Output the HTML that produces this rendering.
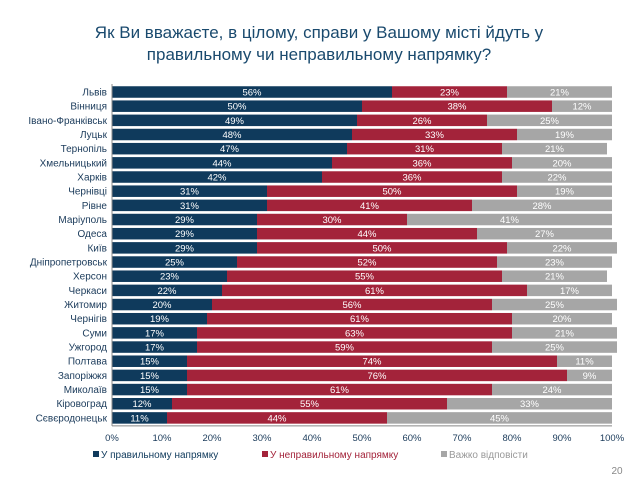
<!DOCTYPE html>
<html><head><meta charset="utf-8"><style>
body{margin:0;background:#fff;font-family:"Liberation Sans","DejaVu Sans",sans-serif;}
#wrap{position:relative;width:638px;height:479px;overflow:hidden;}
#title{position:absolute;left:0;top:22px;width:638px;text-align:center;color:#1a4a6e;font-size:17px;line-height:22px;}
</style></head><body>
<div id="wrap">
<div id="title">Як Ви вважаєте, в цілому, справи у Вашому місті йдуть у<br>правильному чи неправильному напрямку?</div>
<svg id="chart" width="638" height="479" style="position:absolute;left:0;top:0"></svg>
</div>
<script>
const cities=["Львів","Вінниця","Івано-Франківськ","Луцьк","Тернопіль","Хмельницький","Харків","Чернівці","Рівне","Маріуполь","Одеса","Київ","Дніпропетровськ","Херсон","Черкаси","Житомир","Чернігів","Суми","Ужгород","Полтава","Запоріжжя","Миколаїв","Кіровоград","Сєвєродонецьк"];
const right=[56,50,49,48,47,44,42,31,31,29,29,29,25,23,22,20,19,17,17,15,15,15,12,11];
const wrong=[23,38,26,33,31,36,36,50,41,30,44,50,52,55,61,56,61,63,59,74,76,61,55,44];
const hard=[21,12,25,19,21,20,22,19,28,41,27,22,23,21,17,25,20,21,25,11,9,24,33,45];
const ticks=[0,10,20,30,40,50,60,70,80,90,100];
const seriesNames=["У правильному напрямку","У неправильному напрямку","Важко відповісти"];
const colors=["#0f3a5c","#a3233a","#a6a6a6"];
const NS="http://www.w3.org/2000/svg";
const svg=document.getElementById('chart');
const x0=112,x1=612,yTop=92,step=14.17,bh=11.5;
const X=v=>x0+(x1-x0)*v/100;
const Y=i=>yTop+i*step;
function mk(t,a,txt){const e=document.createElementNS(NS,t);for(const k in a)e.setAttribute(k,a[k]);if(txt!==undefined)e.textContent=txt;svg.appendChild(e);return e;}
const series=[right,wrong,hard];
cities.forEach((c,i)=>{
  const y=Y(i);
  const l=mk('text',{x:x0-5,y:y+3.5,'text-anchor':'end','font-size':'10',fill:'#1a3a5a'},c);
  
  
  let acc=0;
  series.forEach((s,k)=>{
    const v=s[i];
    const r=mk('rect',{x:X(acc),y:y-bh/2,width:X(acc+v)-X(acc),height:bh,fill:colors[k]});
    
    
    const t=mk('text',{x:(X(acc)+X(acc+v))/2,y:y+3.5,'text-anchor':'middle','font-size':'9.5',fill:'#fff'},v+'%');
    
    
    acc+=v;
  });
});
mk('line',{x1:x0,y1:yTop-8,x2:x0,y2:Y(23)+8,stroke:'#888','stroke-width':1});
mk('line',{x1:x0,y1:Y(23)+8,x2:x1,y2:Y(23)+8,stroke:'#888','stroke-width':1});
ticks.forEach(t=>{
  const e=mk('text',{x:X(t),y:441,'text-anchor':'middle','font-size':'9.5',fill:'#1a3a5a'},t+'%');
  
  
});
const lx=[93,262,441];
seriesNames.forEach((n,k)=>{
  const r=mk('rect',{x:lx[k],y:451,width:6,height:6,fill:colors[k]});
  
  
  const t=mk('text',{x:lx[k]+8,y:458,'font-size':'10',fill:k==2?'#999':colors[k]},n);
  
  
});
const pn=mk('text',{x:617,y:474,'text-anchor':'middle','font-size':'10',fill:'#888'},'20');


</script>
</body></html>
